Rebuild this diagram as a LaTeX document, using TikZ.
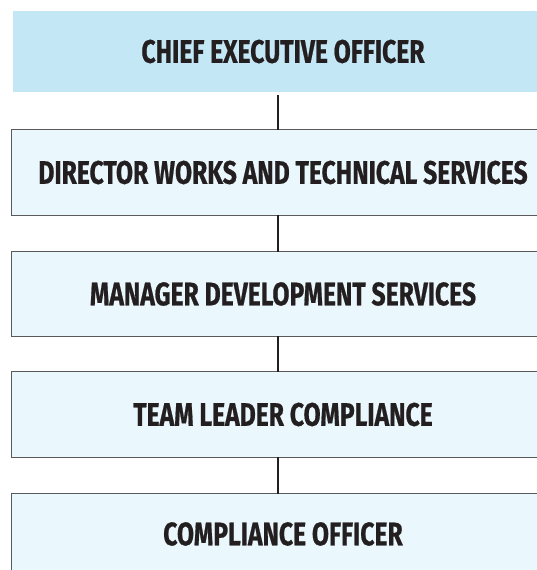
\documentclass[tikz,border=0pt]{standalone}
\usepackage{fontspec}
\newfontfamily\condfont[FakeStretch=0.76,FakeBold=0.6]{Fira Sans}
\definecolor{topfill}{HTML}{C4E7F6}
\definecolor{boxfill}{HTML}{EAF7FC}
\definecolor{edgegray}{HTML}{5A5A5A}
\definecolor{linkblack}{HTML}{231F20}
\begin{document}
\begin{tikzpicture}[x=1pt,y=-1pt,
  orgbox/.style={rectangle, fill=boxfill, minimum width=542pt, inner sep=0pt,
    font=\condfont\bfseries\fontsize{32.5}{32.5}\selectfont, text=linkblack},
  topbox/.style={orgbox, fill=topfill, minimum width=540pt},
  edge/.style={draw=edgegray, line width=1.2pt},
  link/.style={draw=linkblack, line width=2pt}]
\useasboundingbox (0,0) rectangle (537,570);
\node[topbox, minimum height=81pt] (ceo) at (283,51.5) {\raisebox{-3pt}{CHIEF EXECUTIVE OFFICER}};
\node[orgbox, minimum height=85pt] (dir) at (283,172.5) {\raisebox{-1.5pt}{DIRECTOR WORKS AND TECHNICAL SERVICES}};
\node[orgbox, minimum height=84pt] (mgr) at (283,294) {\raisebox{-2.5pt}{MANAGER DEVELOPMENT SERVICES}};
\node[orgbox, minimum height=85pt] (tl) at (283,414.5) {TEAM LEADER COMPLIANCE};
\node[orgbox, minimum height=80pt] (co) at (283,534) {\raisebox{-1.5pt}{COMPLIANCE OFFICER}};
\foreach \b in {dir,mgr,tl}
  \draw[edge] (\b.north east) -- (\b.north west) -- (\b.south west) -- (\b.south east);
\draw[edge] (co.north east) -- (co.north west) -- (co.south west);
\draw[link] ([yshift=-3pt]ceo.south -| 278,0) -- (dir.north -| 278,0);
\draw[link] (dir.south -| 278,0) -- (mgr.north -| 278,0);
\draw[link] (mgr.south -| 278,0) -- (tl.north -| 278,0);
\draw[link] (tl.south -| 278,0) -- (co.north -| 278,0);
\end{tikzpicture}
\end{document}
